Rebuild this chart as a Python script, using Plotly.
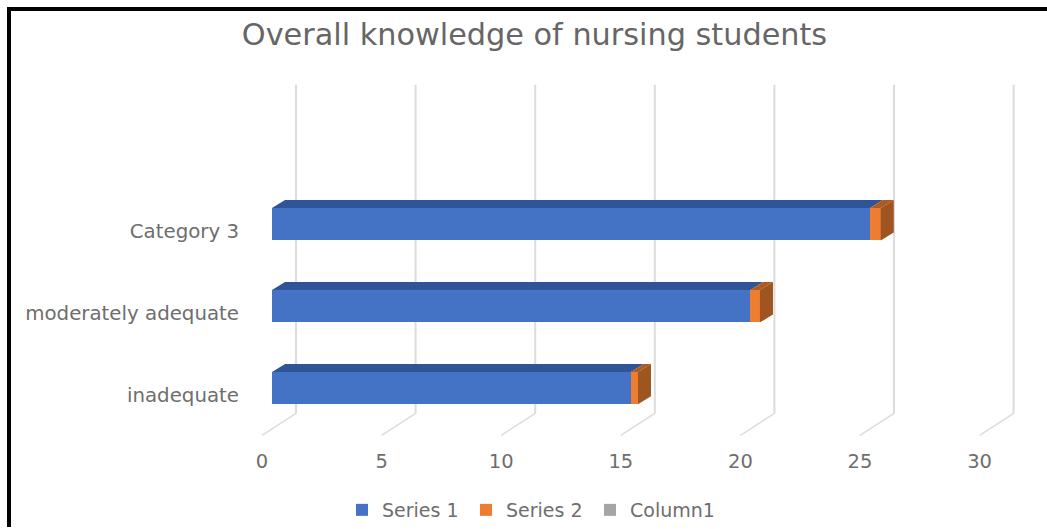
import plotly.graph_objects as go

categories = ["inadequate", "moderately adequate", "Category 3"]
tick_labels = [0, 5, 10, 15, 20, 25, 30]
series_1 = [15, 20, 25]
series_2 = [0.3, 0.4, 0.45]
column_1 = [0, 0, 0]

W, H = 1047, 529
ZERO_PX, PX_PER_UNIT = 272, 23.92
CAT0_PX, PX_PER_CAT = 389.6, 82.25
BAR_W = 0.395
DX, DY = 13 / PX_PER_UNIT, 8 / PX_PER_CAT
GRID_OFF = 24 / PX_PER_UNIT
FRONT_OFF = -10 / PX_PER_UNIT
GREY = "#6e6e6e"
GRID = "#dcdcdc"
FONT = "DejaVu Sans"

xrange = [-ZERO_PX / PX_PER_UNIT, (W - ZERO_PX) / PX_PER_UNIT]
yrange = [(CAT0_PX - H) / PX_PER_CAT, CAT0_PX / PX_PER_CAT]


def py(px):
    return (CAT0_PX - px) / PX_PER_CAT


ypos = list(range(len(categories)))
fig = go.Figure()

for name, vals, base, col in [
    ("Series 1", series_1, [0, 0, 0], "#4472C4"),
    ("Series 2", series_2, series_1, "#ED7D31"),
    ("Column1", column_1, [a + b for a, b in zip(series_1, series_2)], "#A5A5A5"),
]:
    fig.add_trace(go.Bar(y=ypos, x=vals, base=base, orientation="h", name=name, width=BAR_W,
                         marker=dict(color=col, line=dict(width=0)), hoverinfo="skip"))


def poly(xs, ys, col):
    fig.add_trace(go.Scatter(x=xs, y=ys, mode="lines", fill="toself", fillcolor=col,
                             line=dict(width=0, color=col), showlegend=False, hoverinfo="skip"))


for c, s1, s2 in zip(ypos, series_1, series_2):
    t, b = c + BAR_W / 2, c - BAR_W / 2
    e = s1 + s2
    poly([0, DX, s1 + DX, s1], [t, t + DY, t + DY, t], "#2F5597")
    poly([s1, s1 + DX, e + DX, e], [t, t + DY, t + DY, t], "#AE5A21")
    poly([e, e + DX, e + DX, e], [t, t + DY, b + DY, b], "#9E5520")

# floor segments of the gridlines
fx, fy = [], []
for v in tick_labels:
    fx += [v + GRID_OFF, v + FRONT_OFF, None]
    fy += [py(415), py(437), None]
fig.add_trace(go.Scatter(x=fx, y=fy, mode="lines", line=dict(color=GRID, width=1.5),
                         showlegend=False, hoverinfo="skip"))

shapes = [dict(type="line", layer="below", xref="x", yref="y", x0=v + GRID_OFF, x1=v + GRID_OFF,
               y0=py(85), y1=py(415), line=dict(color=GRID, width=2)) for v in tick_labels]
shapes += [
    dict(type="line", xref="paper", yref="paper", x0=9 / W, x1=9 / W, y0=0, y1=1 - 9 / H,
         line=dict(color="black", width=4)),
    dict(type="line", xref="paper", yref="paper", x0=7 / W, x1=1, y0=1 - 9 / H, y1=1 - 9 / H,
         line=dict(color="black", width=4)),
]

fig.update_layout(
    width=W, height=H, margin=dict(l=0, r=0, t=0, b=0), autosize=False,
    paper_bgcolor="white", plot_bgcolor="white", barmode="overlay", bargap=0,
    font=dict(family=FONT, color=GREY, size=19),
    title=dict(text="Overall knowledge of nursing students", x=534.5 / W, xanchor="center",
               y=1 - 34 / H, yanchor="middle", font=dict(size=30.3, color="#666666", family=FONT)),
    shapes=shapes,
    xaxis=dict(range=xrange, showgrid=False, zeroline=False, showline=False, fixedrange=True,
               tickmode="array", tickvals=[v + FRONT_OFF for v in tick_labels], ticktext=[str(v) for v in tick_labels],
               ticks="", anchor="free", position=(H - 449) / H, automargin=False,
               tickfont=dict(size=19.5, color=GREY)),
    yaxis=dict(range=yrange, showgrid=False, zeroline=False, showline=False, fixedrange=True,
               tickmode="array", tickvals=[c - 0.08 for c in ypos],
               ticktext=categories,
               ticks="", anchor="free", position=239 / W, automargin=False,
               tickfont=dict(size=19.8, color=GREY)),
    legend=dict(orientation="h", x=342 / W, xanchor="left", y=1 - 512 / H, yanchor="middle",
                entrywidth=79, entrywidthmode="pixels",
                font=dict(size=19, color=GREY), bgcolor="rgba(0,0,0,0)", traceorder="normal"),
)

fig.write_html("out.html", config={"displayModeBar": False},
               post_script="document.body.style.margin='0';document.body.style.overflow='hidden';")
